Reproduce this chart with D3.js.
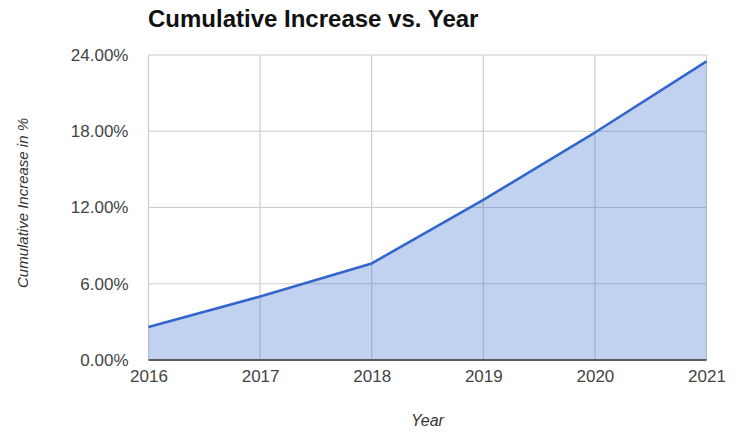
<!DOCTYPE html>
<html>
<head>
<meta charset="utf-8">
<script src="https://cdn.jsdelivr.net/npm/d3@7"></script>
<style>
  html, body { margin: 0; padding: 0; background: #fff; }
  svg { display: block; font-family: Arial, "Liberation Sans", sans-serif; }
</style>
</head>
<body>
<svg id="chart" width="743" height="432"></svg>
<script>
// Cumulative increase (percent) by year
const years = [2016, 2017, 2018, 2019, 2020, 2021];
const cumulativeIncrease = [2.6, 5.0, 7.6, 12.6, 17.9, 23.5];
const yTicks = [0, 6, 12, 18, 24];

const W = 743, H = 432;
const margin = { top: 55, right: 36, bottom: 72, left: 148.5 };
const innerW = 706.5 - margin.left;
const innerH = 360 - margin.top;

const svg = d3.select("#chart");
const g = svg.append("g").attr("transform", `translate(${margin.left},${margin.top})`);

const x = d3.scaleLinear().domain([years[0], years[years.length - 1]]).range([0, innerW]);
const y = d3.scaleLinear().domain([0, 24]).range([innerH, 0]);

const data = years.map((yr, i) => ({ year: yr, value: cumulativeIncrease[i] }));

// Gridlines
g.append("g")
  .selectAll("line.h")
  .data(yTicks)
  .join("line")
  .attr("x1", 0).attr("x2", innerW)
  .attr("y1", d => y(d)).attr("y2", d => y(d))
  .attr("stroke", "#cccccc").attr("stroke-width", 1.2);

g.append("g")
  .selectAll("line.v")
  .data(years)
  .join("line")
  .attr("x1", d => x(d)).attr("x2", d => x(d))
  .attr("y1", 0).attr("y2", innerH)
  .attr("stroke", "#cccccc").attr("stroke-width", 1.2);

// Area under the line
const area = d3.area()
  .x(d => x(d.year))
  .y0(y(0))
  .y1(d => y(d.value));

g.append("path")
  .datum(data)
  .attr("d", area)
  .attr("fill", "#3366cc")
  .attr("fill-opacity", 0.3);

// Baseline at zero
g.append("line")
  .attr("x1", 0).attr("x2", innerW)
  .attr("y1", y(0)).attr("y2", y(0))
  .attr("stroke", "#5a5a5a").attr("stroke-width", 1.8);

// Line
const line = d3.line()
  .x(d => x(d.year))
  .y(d => y(d.value));

g.append("path")
  .datum(data)
  .attr("d", line)
  .attr("fill", "none")
  .attr("stroke", "#3366cc")
  .attr("stroke-width", 2.6)
  .attr("stroke-linejoin", "round");

// Y axis tick labels
const yAxis = d3.axisLeft(y)
  .tickValues(yTicks)
  .tickSize(0)
  .tickPadding(20)
  .tickFormat(d => d3.format(".2f")(d) + "%");

const yG = g.append("g").call(yAxis);
yG.select(".domain").remove();
yG.selectAll("text")
  .attr("fill", "#444")
  .attr("font-size", 17)
  .attr("font-family", "Arial, 'Liberation Sans', sans-serif");

// X axis tick labels
const xAxis = d3.axisBottom(x)
  .tickValues(years)
  .tickSize(0)
  .tickPadding(10)
  .tickFormat(d3.format("d"));

const xG = g.append("g").attr("transform", `translate(0,${innerH})`).call(xAxis);
xG.select(".domain").remove();
xG.selectAll("text")
  .attr("fill", "#444")
  .attr("font-size", 17)
  .attr("font-family", "Arial, 'Liberation Sans', sans-serif");

// Title
svg.append("text")
  .attr("x", 148)
  .attr("y", 27)
  .attr("font-size", 24)
  .attr("font-weight", "bold")
  .attr("fill", "#111")
  .text("Cumulative Increase vs. Year");

// Axis titles
svg.append("text")
  .attr("x", (margin.left + 706.5) / 2)
  .attr("y", 426)
  .attr("text-anchor", "middle")
  .attr("font-size", 16)
  .attr("font-style", "italic")
  .attr("fill", "#333")
  .text("Year");

svg.append("text")
  .attr("transform", `translate(28,203) rotate(-90)`)
  .attr("text-anchor", "middle")
  .attr("font-size", 15)
  .attr("font-style", "italic")
  .attr("fill", "#333")
  .text("Cumulative Increase in %");
</script>
</body>
</html>
